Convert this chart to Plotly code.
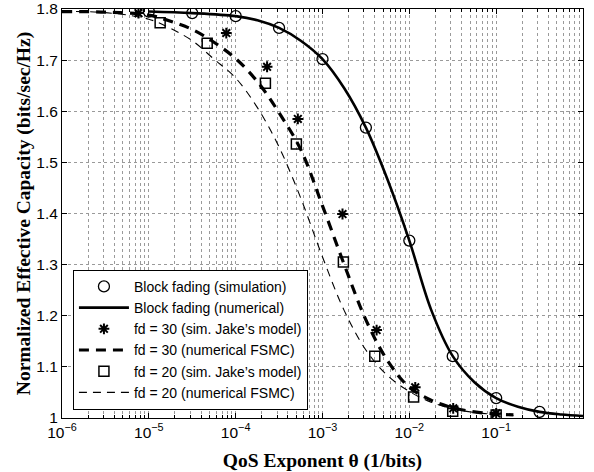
import plotly.graph_objects as go

# ---------------- data ----------------
theta_block_sim = [1e-5, 3.16e-5, 1e-4, 3.16e-4, 1e-3, 3.16e-3, 1e-2, 3.16e-2, 1e-1, 3.16e-1]
cap_block_sim = [1.795, 1.792, 1.786, 1.763, 1.702, 1.568, 1.347, 1.121, 1.039, 1.012]

theta_block_num = [1e-5, 3.16e-5, 1e-4, 1.78e-4, 3.16e-4, 5.62e-4, 1e-3, 1.78e-3, 3.16e-3,
                   5.62e-3, 1e-2, 1.78e-2, 3.16e-2, 5.62e-2, 1e-1, 1.78e-1, 3.16e-1, 5.62e-1, 1.0]
cap_block_num = [1.795, 1.792, 1.786, 1.778, 1.763, 1.738, 1.702, 1.645, 1.568,
                 1.466, 1.347, 1.212, 1.121, 1.070, 1.039, 1.022, 1.012, 1.007, 1.004]

theta_fd30_sim = [7.6e-6, 7.8e-5, 2.3e-4, 5.2e-4, 1.7e-3, 4.2e-3, 1.17e-2, 3.2e-2, 1e-1]
cap_fd30_sim = [1.792, 1.753, 1.687, 1.585, 1.399, 1.172, 1.060, 1.019, 1.009]

theta_fsmc = [1e-6, 3.16e-6, 1e-5, 1.78e-5, 3.16e-5, 5.62e-5, 1e-4, 1.78e-4, 3.16e-4,
              5.62e-4, 1e-3, 1.78e-3, 3.16e-3, 5.62e-3, 1e-2, 1.78e-2, 3.16e-2, 5.62e-2,
              1e-1, 1.58e-1]
cap_fd30_num = [1.795, 1.794, 1.788, 1.776, 1.760, 1.735, 1.703, 1.658, 1.597,
                1.525, 1.415, 1.300, 1.192, 1.112, 1.060, 1.035, 1.020, 1.012, 1.008, 1.006]

theta_fd20_sim = [1.35e-5, 4.7e-5, 2.2e-4, 5.0e-4, 1.74e-3, 4.0e-3, 1.12e-2, 3.16e-2, 1e-1]
cap_fd20_sim = [1.773, 1.733, 1.655, 1.536, 1.305, 1.121, 1.041, 1.013, 1.006]

cap_fd20_num = [1.795, 1.793, 1.780, 1.762, 1.738, 1.702, 1.665, 1.607, 1.530,
                1.430, 1.315, 1.210, 1.133, 1.083, 1.052, 1.031, 1.018, 1.011, 1.007, 1.005]

x_tick_vals = [1e-6, 1e-5, 1e-4, 1e-3, 1e-2, 1e-1, 1]
x_tick_text = ["10<sup>−6</sup>", "10<sup>−5</sup>", "10<sup>−4</sup>", "10<sup>−3</sup>",
               "10<sup>−2</sup>", "10<sup>−1</sup>", "10<sup>0</sup>"]
y_tick_vals = [1.0, 1.1, 1.2, 1.3, 1.4, 1.5, 1.6, 1.7, 1.8]
y_tick_text = ["1", "1.1", "1.2", "1.3", "1.4", "1.5", "1.6", "1.7", "1.8"]

legend_names = ["Block fading (simulation)", "Block fading (numerical)",
                "fd = 30 (sim. Jake\u2019s model)", "fd = 30 (numerical FSMC)",
                "fd = 20 (sim. Jake\u2019s model)", "fd = 20 (numerical FSMC)"]

# ---------------- figure ----------------
fig = go.Figure()
fig.add_trace(go.Scatter(x=theta_block_sim, y=cap_block_sim, mode="markers", name=legend_names[0],
                         marker=dict(symbol="circle-open", size=11, color="black",
                                     line=dict(width=1.3, color="black"))))
fig.add_trace(go.Scatter(x=theta_block_num, y=cap_block_num, mode="lines", name=legend_names[1],
                         line=dict(color="black", width=2.6, shape="spline")))
fig.add_trace(go.Scatter(x=theta_fd30_sim, y=cap_fd30_sim, mode="markers", name=legend_names[2],
                         marker=dict(symbol="asterisk-open", size=9, color="black",
                                     line=dict(width=2, color="black"))))
fig.add_trace(go.Scatter(x=theta_fsmc, y=cap_fd30_num, mode="lines", name=legend_names[3],
                         line=dict(color="black", width=3.2, dash="10px,7px", shape="spline")))
fig.add_trace(go.Scatter(x=theta_fd20_sim, y=cap_fd20_sim, mode="markers", name=legend_names[4],
                         marker=dict(symbol="square-open", size=10, color="black",
                                     line=dict(width=1.5, color="black"))))
fig.add_trace(go.Scatter(x=theta_fsmc, y=cap_fd20_num, mode="lines", name=legend_names[5],
                         line=dict(color="black", width=1.1, dash="8px,6px", shape="spline")))

minor_vals = []
for k in range(-6, 0):
    for m in range(2, 10):
        minor_vals.append(m * 10.0 ** k)

grid_col = "#9a9a9a"
fig.update_layout(
    width=594, height=472,
    margin=dict(l=62, r=11, t=9, b=54, autoexpand=False),
    paper_bgcolor="white", plot_bgcolor="white",
    font=dict(family="Liberation Sans, Arial, sans-serif", size=14, color="black"),
    showlegend=True,
    legend=dict(x=0.021, y=0.02, xanchor="left", yanchor="bottom",
                bgcolor="white", bordercolor="black", borderwidth=1,
                font=dict(family="Liberation Sans, Arial, sans-serif", size=14),
                tracegroupgap=0, itemwidth=50),
    xaxis=dict(type="log", range=[-6, 0], tickvals=x_tick_vals, ticktext=x_tick_text,
               automargin=False,
               ticks="inside", ticklen=5, tickcolor="black", showline=True, linecolor="black",
               linewidth=1, mirror="allticks", showgrid=True, gridcolor=grid_col, griddash="dot",
               gridwidth=1, zeroline=False,
               tickfont=dict(family="Liberation Sans, Arial, sans-serif", size=15.5),
               minor=dict(tickvals=minor_vals, ticks="inside", ticklen=3, tickcolor="black",
                          showgrid=True, gridcolor=grid_col, griddash="dot", gridwidth=1),
               title=dict(text="<b>QoS Exponent θ (1/bits)</b>", standoff=14,
                          font=dict(family="Liberation Serif, Times New Roman, serif", size=19.5))),
    yaxis=dict(range=[1, 1.8], tickvals=y_tick_vals, ticktext=y_tick_text,
               automargin=False,
               ticks="inside", ticklen=5, tickcolor="black", showline=True, linecolor="black",
               linewidth=1, mirror="allticks", showgrid=True, gridcolor=grid_col, griddash="dot",
               gridwidth=1, zeroline=False,
               tickfont=dict(family="Liberation Sans, Arial, sans-serif", size=15.5),
               title=dict(text="<b>Normalized Effective Capacity (bits/sec/Hz)</b>", standoff=0,
                          font=dict(family="Liberation Serif, Times New Roman, serif", size=19.5))),
)

fig.write_html("out.html")
